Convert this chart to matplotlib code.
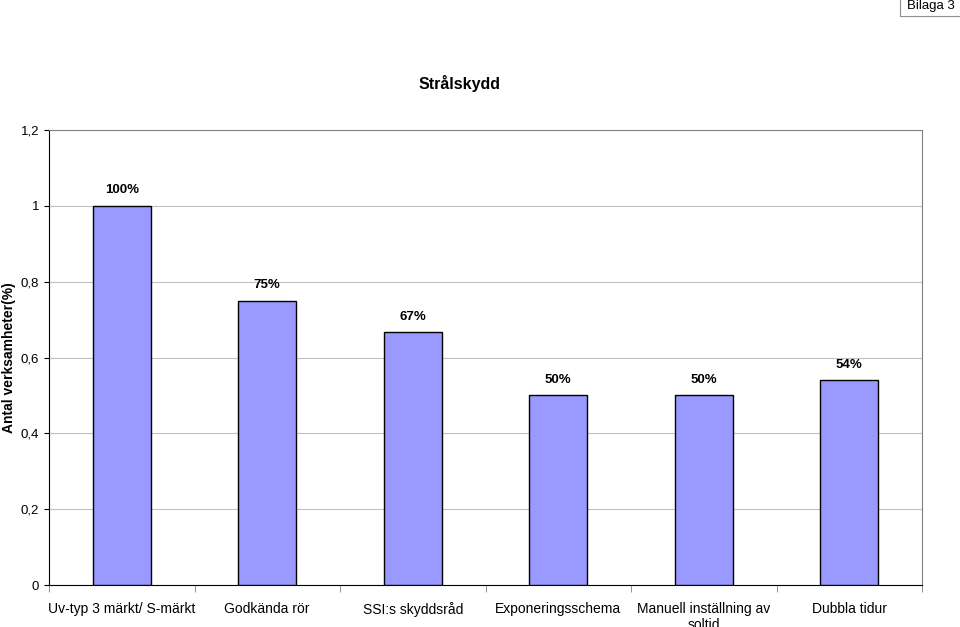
import matplotlib
matplotlib.use("Agg")
import matplotlib.pyplot as plt
import numpy as np

categories = ["Uv-typ 3 märkt/ S-märkt", "Godkända rör", "SSI:s skyddsråd",
              "Exponeringsschema", "Manuell inställning av\nsoltid", "Dubbla tidur"]
values = [1.0, 0.75, 0.667, 0.5, 0.5, 0.54]
labels = ["100%", "75%", "67%", "50%", "50%", "54%"]
yticks = [0, 0.2, 0.4, 0.6, 0.8, 1.0, 1.2]
ytick_labels = ["0", "0,2", "0,4", "0,6", "0,8", "1", "1,2"]

fig = plt.figure(figsize=(9.6, 6.27), dpi=100)
ax = fig.add_axes([49/960, 1-585/627, 873/960, 455/627])
x = np.arange(len(categories))
ax.bar(x, values, width=0.4, color="#9999FF", edgecolor="black", linewidth=1, zorder=3)
for xi, v, l in zip(x, values, labels):
    ax.text(xi, v + 0.025, l, ha="center", va="bottom", fontsize=9.5, fontweight="bold", family="Liberation Sans")
ax.set_xlim(-0.5, len(categories) - 0.5)
ax.set_ylim(0, 1.2)
ax.set_yticks(yticks)
ax.set_yticklabels(ytick_labels, family="Liberation Sans", fontsize=9.5)
ax.yaxis.grid(True, color="#c0c0c0", linewidth=0.8, zorder=0)
ax.set_xticks(x)
ax.set_xticklabels(categories, family="Liberation Sans", fontsize=10)
ax.tick_params(axis="x", length=0, pad=12)
ax.set_xticks(np.arange(-0.5, len(categories)), minor=True)
ax.tick_params(axis="x", which="minor", length=5, color="#808080")
for s in ax.spines.values():
    s.set_color("#808080")
ax.spines["left"].set_color("black")
ax.spines["bottom"].set_color("black")
ax.set_ylabel("Antal verksamheter(%)", fontsize=10, fontweight="bold", family="Liberation Sans")
ax.yaxis.set_label_coords(-0.038, 0.5)
fig.text(460/960, 1-83/627, "Strålskydd", ha="center", va="center", fontsize=11.5,
         fontweight="bold", family="Liberation Sans")
fig.text(955/960, 1-6/627, "Bilaga 3", ha="right", va="center", fontsize=9.5, family="Liberation Sans")
fig.add_artist(plt.Line2D([900/960, 900/960], [1, 1-16/627], color="#909090", linewidth=0.8))
fig.add_artist(plt.Line2D([900/960, 1], [1-16/627, 1-16/627], color="#909090", linewidth=0.8))
fig.savefig("out.png", dpi=100)
